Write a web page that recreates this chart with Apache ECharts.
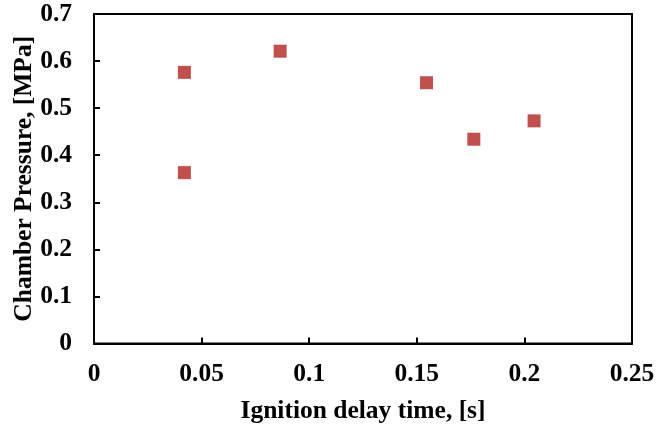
<!DOCTYPE html>
<html><head><meta charset="utf-8">
<script src="https://cdn.jsdelivr.net/npm/echarts@6/dist/echarts.min.js"></script>
<style>html,body{margin:0;padding:0;background:#fff}#c{width:672px;height:428px}</style>
</head><body><div id="c"></div>
<script>
const delayTime = [0.042, 0.0865, 0.042, 0.1545, 0.1765, 0.2045];
const pressure = [0.576, 0.621, 0.363, 0.554, 0.434, 0.473];
const xTitle = 'Ignition delay time, [s]';
const yTitle = 'Chamber Pressure, [MPa]';

const font = '"Liberation Serif", "Times New Roman", serif';
const chart = echarts.init(document.getElementById('c'));
chart.setOption({
  animation: false,
  grid: {left: 94, right: 40, top: 14, bottom: 84.5, show: true, borderColor: '#000', borderWidth: 2, backgroundColor: 'transparent', containLabel: false, outerBoundsMode: 'none'},
  xAxis: {
    type: 'value', min: 0, max: 0.25, interval: 0.05,
    name: xTitle, nameLocation: 'middle', nameGap: 55, nameMoveOverlap: false,
    nameTextStyle: {fontFamily: font, fontWeight: 'bold', fontSize: 25.5, color: '#000'},
    axisLine: {show: true, lineStyle: {color: '#000', width: 2}},
    axisTick: {show: true, inside: true, length: 6, lineStyle: {color: '#000', width: 2}},
    axisLabel: {fontFamily: font, fontWeight: 'bold', fontSize: 25.5, color: '#000', margin: 18},
    splitLine: {show: false}
  },
  yAxis: {
    type: 'value', min: 0, max: 0.7, interval: 0.1,
    name: yTitle, nameLocation: 'middle', nameGap: 57, nameMoveOverlap: false,
    nameTextStyle: {fontFamily: font, fontWeight: 'bold', fontSize: 25.5, color: '#000'},
    axisLine: {show: true, lineStyle: {color: '#000', width: 2}},
    axisTick: {show: true, inside: true, length: 6, lineStyle: {color: '#000', width: 2}},
    axisLabel: {fontFamily: font, fontWeight: 'bold', fontSize: 25.5, color: '#000', margin: 22},
    splitLine: {show: false}
  },
  series: [{
    type: 'scatter',
    symbol: 'rect', symbolSize: 13,
    itemStyle: {color: '#C0504D', opacity: 1},
    data: delayTime.map((x, i) => [x, pressure[i]])
  }]
});
</script></body></html>
